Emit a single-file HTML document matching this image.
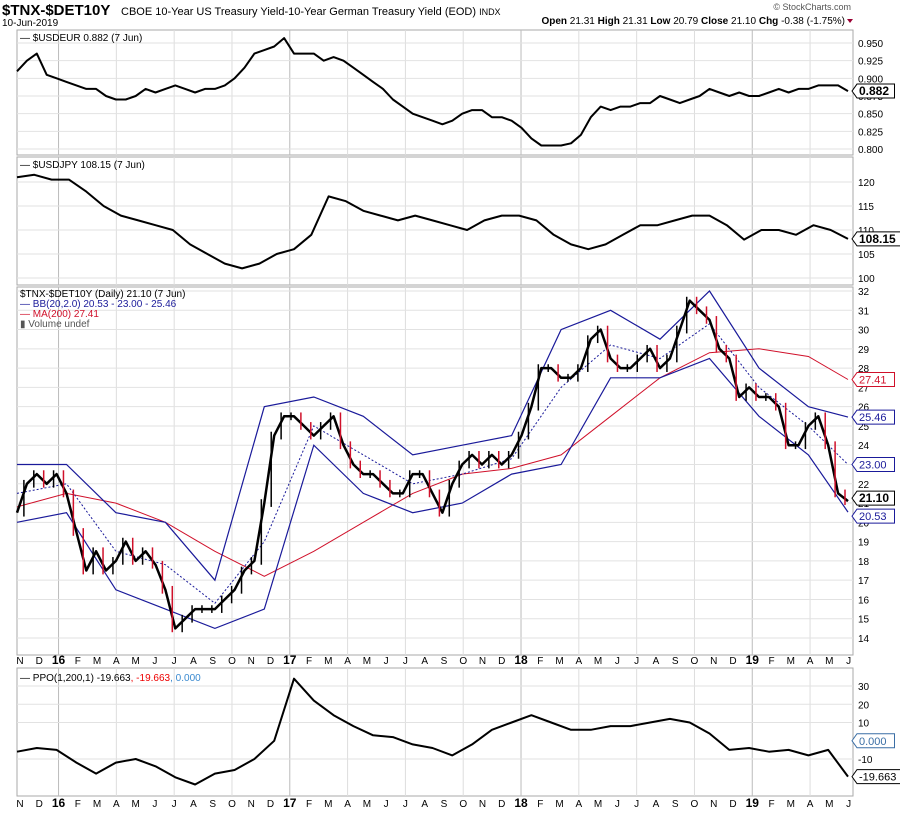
<!DOCTYPE html>
<html><head><meta charset="utf-8"><style>
body{margin:0;background:#fff;font-family:"Liberation Sans",sans-serif}
svg text{font-family:"Liberation Sans",sans-serif}
</style></head><body>
<svg id="c" width="900" height="811" viewBox="0 0 900 811" xmlns="http://www.w3.org/2000/svg">
<text x="2" y="15" font-size="15" font-weight="bold">$TNX-$DET10Y</text>
<text x="121" y="15" font-size="11">CBOE 10-Year US Treasury Yield-10-Year German Treasury Yield (EOD) <tspan font-size="9">INDX</tspan></text>
<text x="2" y="26" font-size="10">10-Jun-2019</text>
<text x="851" y="10" font-size="9" fill="#555" text-anchor="end">© StockCharts.com</text>
<text x="845" y="24" font-size="10" text-anchor="end"><tspan font-weight="bold">Open</tspan> 21.31 <tspan font-weight="bold">High</tspan> 21.31 <tspan font-weight="bold">Low</tspan> 20.79 <tspan font-weight="bold">Close</tspan> 21.10 <tspan font-weight="bold">Chg</tspan> -0.38 (-1.75%)</text>
<path d="M847 19 l6 0 l-3 4z" fill="#903"/>
<g id="g"></g>
</svg>
<script>
const months=["N","D","16","F","M","A","M","J","J","A","S","O","N","D","17","F","M","A","M","J","J","A","S","O","N","D","18","F","M","A","M","J","J","A","S","O","N","D","19","F","M","A","M","J"];
const price=[20.5,22,22.5,22,22.5,21.5,19.5,17.5,18.5,17.5,18,19,18,18.5,17.8,16.5,14.5,15,15.5,15.5,15.5,16,16.5,17.5,18,21,24.5,25.5,25.5,25,24.5,25,25.5,24,23,22.5,22.5,22,21.5,21.5,22.5,22.5,21.5,20.5,22,23,23.5,23,23.5,23,23.5,24.5,26,28,28,27.5,27.5,28,29.5,30,28.5,28,28,28.5,29,28,28.5,30,31.5,31,30.5,29,28.5,26.5,27,26.5,26.5,26,24,24,25,25.5,24,21.5,21.1];
const bbUpper=[23,23,20.5,20,17,26,26.5,25.5,23.5,24,24.5,30,31,29.5,32,28,26,25.46];
const bbMid=[21.5,22,18.5,17.8,15.8,19,25,23.5,22,22.5,23.3,27,29.2,28.5,30.3,27,25,23.0];
const bbLower=[20,20.5,16.5,15.5,14.5,15.5,24,21.5,20.5,21,22.5,23,27.5,27.5,28.5,25.5,23.5,20.53];
const ma200=[20.8,21.5,21,20,18.5,17.2,18.5,20,21.5,22.5,22.8,23.5,25.5,27.5,28.8,29,28.6,27.41];
const usdeur=[0.91,0.925,0.935,0.905,0.90,0.895,0.89,0.885,0.885,0.875,0.87,0.87,0.875,0.885,0.88,0.885,0.89,0.885,0.88,0.885,0.885,0.89,0.9,0.915,0.935,0.94,0.945,0.957,0.935,0.935,0.935,0.925,0.93,0.925,0.915,0.905,0.895,0.885,0.87,0.86,0.85,0.845,0.84,0.835,0.84,0.85,0.855,0.855,0.845,0.845,0.84,0.83,0.815,0.805,0.805,0.805,0.808,0.82,0.845,0.86,0.855,0.86,0.86,0.865,0.865,0.875,0.87,0.865,0.87,0.875,0.885,0.88,0.875,0.88,0.875,0.875,0.88,0.885,0.88,0.885,0.885,0.89,0.89,0.89,0.882];
const usdjpy=[121,121.5,120.5,120.5,118,115,113,112,111,110,107,105,103,102,103,105,106,109,117,116,114,113,112,113,112,111,110,112,113,113,112,109,107,106,107,109,111,111,112,113,113,111,108,110,110,109,111,110,108.15];
const ppo=[-6,-4,-5,-12,-18,-12,-10,-14,-20,-24,-18,-16,-10,0,34,22,14,8,3,2,-2,-4,-8,-2,6,10,14,10,6,6,8,8,10,12,10,4,-5,-4,-6,-5,-8,-5,-19.66];

const g=document.getElementById('g');
const NS='http://www.w3.org/2000/svg';
const L=17,R=853;
function mk(t,a){const e=document.createElementNS(NS,t);for(const k in a)e.setAttribute(k,a[k]);g.appendChild(e);return e;}
function monthX(i){return 20+i*19.27;}
function xs(i,n){return L+i*(848-L)/(n-1);}
const panels=[
 {name:'usdeur-panel',top:30,bot:155,v0:0.950,y0:43,v1:0.800,y1:149,ticks:[0.950,0.925,0.900,0.875,0.850,0.825,0.800],fmt:v=>v.toFixed(3)},
 {name:'usdjpy-panel',top:157,bot:285,v0:120,y0:182,v1:100,y1:278,ticks:[120,115,110,105,100],fmt:v=>String(v)},
 {name:'price-panel',top:287,bot:655,v0:32,y0:291,v1:14,y1:638,ticks:[32,31,30,29,28,27,26,25,24,23,22,21,20,19,18,17,16,15,14],fmt:v=>String(v)},
 {name:'ppo-panel',top:668,bot:796,v0:30,y0:686,v1:-10,y1:759,ticks:[30,20,10,-10],fmt:v=>String(v)}
];
panels.forEach(p=>{p.y=v=>p.y0+(v-p.v0)*(p.y1-p.y0)/(p.v1-p.v0);});
panels.forEach(p=>{
 const fr=mk('rect',{x:L,y:p.top,width:R-L,height:p.bot-p.top,fill:'#fff',stroke:'#aaa'});
 
 
 months.forEach((m,i)=>{if((i-2)%3!==0)return;const x=monthX(i);const yr=m.length>1;
  const ln=mk('line',{x1:x,x2:x,y1:p.top,y2:p.bot,stroke:yr?'#bbb':'#ddd'});
  
  });
 p.ticks.forEach(t=>{const y=p.y(t);const ln=mk('line',{x1:L,x2:R,y1:y,y2:y,stroke:'#e2e2e2'});
  
  
  const tx=mk('text',{x:858,y:y+4,'font-size':10});tx.textContent=p.fmt(t);
  
  });
});
[660,803].forEach(yy=>months.forEach((m,i)=>{const yr=m.length>1;const t=mk('text',{x:monthX(i),y:yy+4,'font-size':yr?12:10,'font-weight':yr?'bold':'normal','text-anchor':'middle'});t.textContent=m;
 
 }));
function line(arr,p,color,w,name,dash,n){
 const N=n||arr.length;const d=arr.map((v,i)=>(i?'L':'M')+xs(i,N).toFixed(1)+' '+p.y(v).toFixed(1)).join(' ');
 const e=mk('path',{d:d,fill:'none',stroke:color,'stroke-width':w,'stroke-linejoin':'round'});
 if(dash)e.setAttribute('stroke-dasharray',dash);
 
 return e;}
function sparse(arr,p,color,w,name,dash){
 const n=price.length;const idx=arr.map((v,i)=>i<arr.length-1?i*5:n-1);
 const d=arr.map((v,i)=>(i?'L':'M')+xs(idx[i],n).toFixed(1)+' '+p.y(v).toFixed(1)).join(' ');
 const e=mk('path',{d:d,fill:'none',stroke:color,'stroke-width':w});
 if(dash)e.setAttribute('stroke-dasharray',dash);
 
 }
const [pE,pJ,pP,pO]=panels;
line(usdeur,pE,'#000',2,'usdeur-line');
line(usdjpy,pJ,'#000',2,'usdjpy-line');
sparse(ma200,pP,'#d0102a',1,'ma200-line');
sparse(bbUpper,pP,'#1a1a9a',1.2,'bb-upper-line');
sparse(bbLower,pP,'#1a1a9a',1.2,'bb-lower-line');
sparse(bbMid,pP,'#1a1a9a',1,'bb-middle-line','2,2');
line(price,pP,'#000',2.5,'price-line');
price.forEach((v,i)=>{if(!i)return;const a=price[i-1];const x=xs(i,price.length)-3;
 const hi=Math.max(a,v)+0.2,lo=Math.min(a,v)-0.2;
 const b=mk('line',{x1:x,x2:x,y1:pP.y(hi),y2:pP.y(lo),stroke:v<a?'#d0102a':'#000','stroke-width':1.5});
 
 });
line(ppo,pO,'#000',2,'ppo-line');
function box(x,y,txt,col,bold,name){
 const w=txt.length*6.3+6;
 const e=mk('path',{d:`M${x} ${y} l5 -7 h${w} v14 h-${w} z`,fill:'#fff',stroke:col});
 
 
 const t=mk('text',{x:x+7,y:y+4,'font-size':bold?12:11,'font-weight':bold?'bold':'normal',fill:col});t.textContent=txt;
 
 }
box(852,pE.y(0.882),'0.882','#000',true,'usdeur-last');
box(852,pJ.y(108.15),'108.15','#000',true,'usdjpy-last');
box(852,pP.y(27.41),'27.41','#d0102a',false,'ma200-last');
box(852,pP.y(25.46),'25.46','#1a1a9a',false,'bb-upper-last');
box(852,pP.y(23.0),'23.00','#1a1a9a',false,'bb-mid-last');
box(852,pP.y(21.1)-3,'21.10','#000',true,'price-last');
box(852,pP.y(20.53)+4,'20.53','#1a1a9a',false,'bb-lower-last');
box(852,pO.y(0),'0.000','#3a6ea5',false,'ppo-signal-last');
box(852,pO.y(-19.66),'-19.663','#000',false,'ppo-last');
function leg(x,y,html,name){const t=mk('text',{x:x,y:y,'font-size':10});t.innerHTML=html;
 
 }
leg(20,41,'— $USDEUR 0.882 (7 Jun)','usdeur-legend');
leg(20,168,'— $USDJPY 108.15 (7 Jun)','usdjpy-legend');
leg(20,297,'$TNX-$DET10Y (Daily) 21.10 (7 Jun)','price-legend');
leg(20,307,'<tspan fill="#1a1a9a">— BB(20,2.0) 20.53 - 23.00 - 25.46</tspan>','bb-legend');
leg(20,317,'<tspan fill="#d0102a">— MA(200) 27.41</tspan>','ma-legend');
leg(20,327,'<tspan fill="#555">▮ Volume undef</tspan>','volume-legend');
leg(20,681,'— PPO(1,200,1) -19.663<tspan fill="#e00">, -19.663</tspan><tspan fill="#3a8ad0">, 0.000</tspan>','ppo-legend');
</script>
</body></html>
